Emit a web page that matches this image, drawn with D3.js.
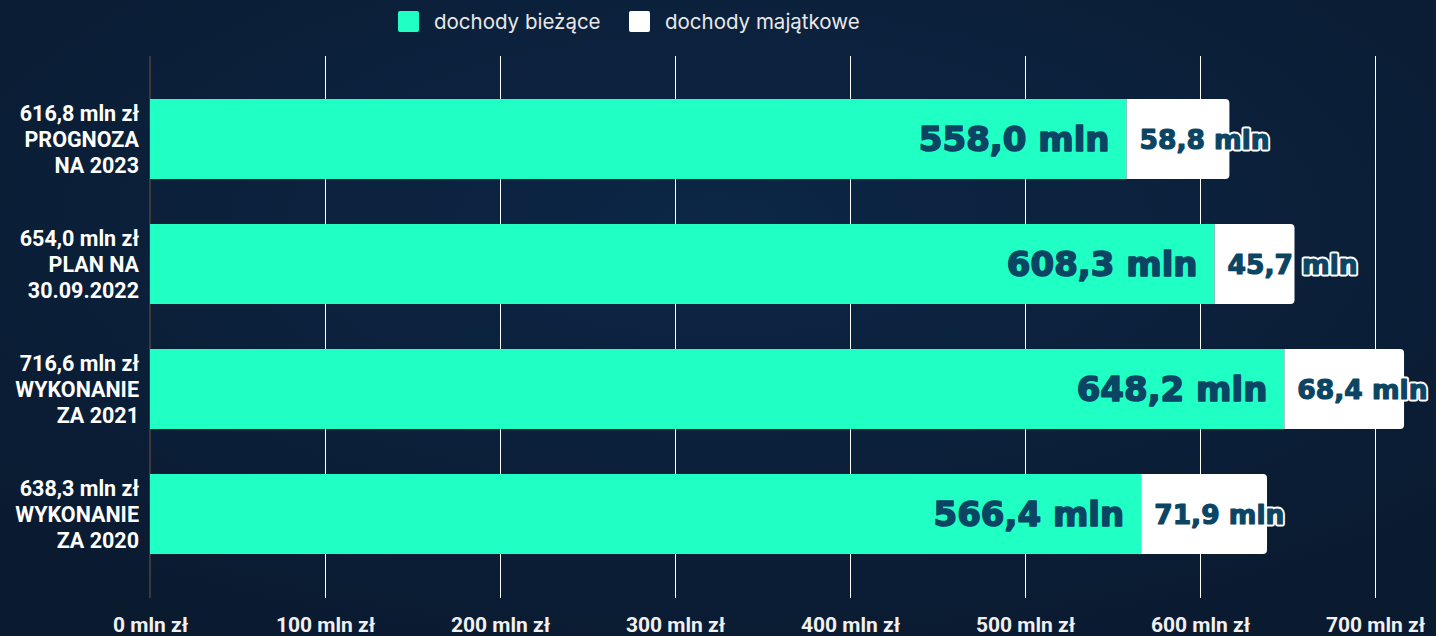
<!DOCTYPE html>
<html><head><meta charset="utf-8">
<script src="https://cdn.jsdelivr.net/npm/d3@7"></script>
<style>
html,body{margin:0;padding:0;background:#0a1c33;}
svg{display:block;}
</style></head>
<body>
<svg id="chart" width="1436" height="636"></svg>
<script>
const categories = [
  ["616,8 mln zł", "PROGNOZA", "NA 2023"],
  ["654,0 mln zł", "PLAN NA", "30.09.2022"],
  ["716,6 mln zł", "WYKONANIE", "ZA 2021"],
  ["638,3 mln zł", "WYKONANIE", "ZA 2020"]
];
const biezace = [558.0, 608.3, 648.2, 566.4];
const majatkowe = [58.8, 45.7, 68.4, 71.9];
const biezaceLabels = ["558,0 mln", "608,3 mln", "648,2 mln", "566,4 mln"];
const majatkoweLabels = ["58,8 mln", "45,7 mln", "68,4 mln", "71,9 mln"];
const tickValues = [0, 100, 200, 300, 400, 500, 600, 700];
const tickLabels = ["0 mln zł", "100 mln zł", "200 mln zł", "300 mln zł", "400 mln zł", "500 mln zł", "600 mln zł", "700 mln zł"];
const seriesNames = ["dochody bieżące", "dochody majątkowe"];
const seriesColors = ["#20ffc4", "#ffffff"];

const W = 1436, H = 636;
const svg = d3.select("#chart");
const defs = svg.append("defs");
const grad = defs.append("radialGradient").attr("id", "bg").attr("cx", "50%").attr("cy", "35%").attr("r", "75%");
grad.append("stop").attr("offset", "0%").attr("stop-color", "#0c2646");
grad.append("stop").attr("offset", "100%").attr("stop-color", "#0a1a2f");
svg.append("rect").attr("width", W).attr("height", H).attr("fill", "url(#bg)");

const x = d3.scaleLinear().domain([0, 700]).range([150, 1375]);
const idx = d3.range(categories.length);
const y = d3.scaleBand().domain(idx).range([76.5, 576.5]).paddingInner(45/125).paddingOuter(22.5/125);

const gridTop = 56, gridBottom = 598;

// grid lines
svg.append("g").selectAll("line").data(tickValues.filter(d => d > 0)).join("line")
  .attr("x1", d => x(d)).attr("x2", d => x(d))
  .attr("y1", gridTop).attr("y2", gridBottom)
  .attr("stroke", "#ffffff").attr("stroke-width", 1).attr("shape-rendering", "crispEdges");
svg.append("line").attr("x1", x(0)).attr("x2", x(0)).attr("y1", gridTop).attr("y2", gridBottom)
  .attr("stroke", "#3a3a3a").attr("stroke-width", 2).attr("shape-rendering", "crispEdges");

// x axis labels
const xAxis = d3.axisBottom(x).tickValues(tickValues).tickSize(0).tickFormat((d, i) => tickLabels[i]);
const gx = svg.append("g").attr("transform", `translate(0,${gridBottom})`).call(xAxis);
gx.select(".domain").remove();
gx.selectAll("text").attr("dy", 0).attr("y", 34)
  .attr("font-family", "Roboto, sans-serif").attr("font-weight", 700).attr("font-size", 21)
  .attr("fill", "#f0f0f0");

// bars - green
svg.append("g").selectAll("rect").data(idx).join("rect")
  .attr("x", x(0)).attr("y", i => y(i))
  .attr("width", i => x(biezace[i]) - x(0)).attr("height", y.bandwidth())
  .attr("fill", seriesColors[0]);

// bars - white with rounded right corners
const r = 4;
svg.append("g").selectAll("path").data(idx).join("path")
  .attr("d", i => {
    const x0 = x(biezace[i]), x1 = x(biezace[i] + majatkowe[i]);
    const y0 = y(i), y1 = y(i) + y.bandwidth();
    return `M${x0},${y0}H${x1 - r}Q${x1},${y0} ${x1},${y0 + r}V${y1 - r}Q${x1},${y1} ${x1 - r},${y1}H${x0}Z`;
  })
  .attr("fill", seriesColors[1]);

// labels inside green
svg.append("g").selectAll("text").data(idx).join("text")
  .attr("x", i => x(biezace[i]) - 17).attr("y", i => y(i) + y.bandwidth() / 2)
  .attr("dy", "0.36em").attr("text-anchor", "end")
  .attr("font-family", "'DejaVu Sans', sans-serif").attr("font-weight", 700).attr("font-size", 34)
  .attr("fill", "#0b4563").attr("stroke", "#0b4563").attr("stroke-width", 1.6)
  .attr("stroke-linejoin", "round")
  .text(i => biezaceLabels[i]);

// labels for white segments: white outline, then fill thickened
const wl = svg.append("g");
wl.selectAll("text.o").data(idx).join("text").attr("class", "o")
  .attr("x", i => x(biezace[i]) + 13).attr("y", i => y(i) + y.bandwidth() / 2)
  .attr("dy", "0.36em").attr("text-anchor", "start")
  .attr("font-family", "'DejaVu Sans', sans-serif").attr("font-weight", 700).attr("font-size", 26.5)
  .attr("fill", "#ffffff").attr("stroke", "#ffffff").attr("stroke-width", 5)
  .attr("stroke-linejoin", "round")
  .text(i => majatkoweLabels[i]);
wl.selectAll("text.f").data(idx).join("text").attr("class", "f")
  .attr("x", i => x(biezace[i]) + 13).attr("y", i => y(i) + y.bandwidth() / 2)
  .attr("dy", "0.36em").attr("text-anchor", "start")
  .attr("font-family", "'DejaVu Sans', sans-serif").attr("font-weight", 700).attr("font-size", 26.5)
  .attr("fill", "#0b4563").attr("stroke", "#0b4563").attr("stroke-width", 1.2)
  .attr("stroke-linejoin", "round")
  .text(i => majatkoweLabels[i]);

// y category labels
const yl = svg.append("g").selectAll("text").data(idx).join("text")
  .attr("text-anchor", "end")
  .attr("font-family", "Roboto, sans-serif").attr("font-weight", 700).attr("font-size", 21.5)
  .attr("fill", "#ffffff");
yl.each(function(i) {
  const t = d3.select(this);
  const cy = y(i) + y.bandwidth() / 2;
  categories[i].forEach((line, k) => {
    t.append("tspan").attr("x", 139).attr("y", cy + (k - 1) * 26).attr("dy", "0.36em").text(line);
  });
});

// legend
const legendX = [398, 629];
const lg = svg.append("g");
seriesNames.forEach((name, k) => {
  lg.append("rect").attr("x", legendX[k]).attr("y", 11).attr("width", 21).attr("height", 21)
    .attr("rx", 2).attr("fill", seriesColors[k]);
  lg.append("text").attr("x", legendX[k] + 36).attr("y", 22).attr("dy", "0.36em")
    .attr("font-family", "Inter, sans-serif").attr("font-size", 20.5).attr("fill", "#e8e8e8")
    .text(name);
});
</script>
</body></html>
